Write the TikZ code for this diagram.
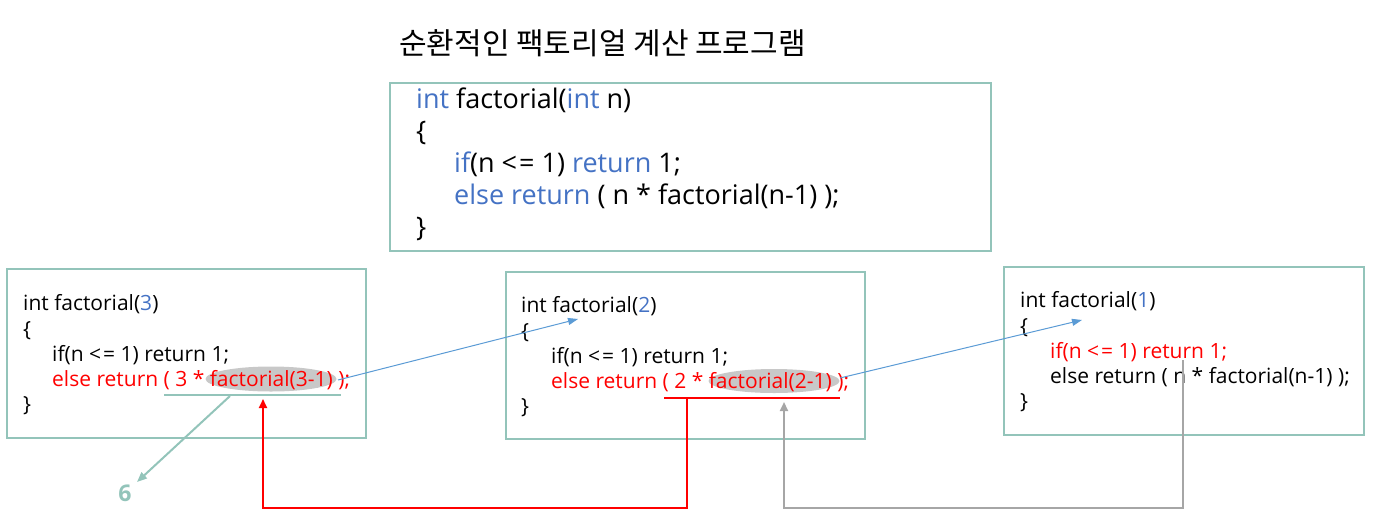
\documentclass[tikz,border=0pt]{standalone}
\usepackage{fontspec}
\setmainfont{Open Sans}
\newfontfamily\kr{Noto Sans CJK KR}
\usetikzlibrary{arrows.meta,shapes.geometric}
\definecolor{boxc}{HTML}{93C4BA}
\definecolor{kw}{HTML}{4472C4}
\definecolor{rd}{HTML}{FF0000}
\definecolor{gr}{HTML}{A6A6A6}
\definecolor{ab}{HTML}{5B9BD5}
\definecolor{hlc}{HTML}{C8C8C8}
\newcommand{\lesseq}{<\kern2pt=}
\begin{document}
\begin{tikzpicture}[x=1pt,y=-1pt,
 box/.style={draw=boxc, line width=2pt, anchor=north west, inner sep=0pt},
 small/.style={anchor=base west, inner sep=0pt, font=\fontsize{21}{25}\selectfont},
 big/.style={anchor=base west, inner sep=0pt, font=\fontsize{27}{31}\selectfont},
 hl/.style={ellipse, fill=hlc, inner sep=0pt},
 callarrow/.style={draw=ab, line width=1pt, -{Triangle[length=10pt,width=7pt]}},
 retred/.style={draw=rd, line width=2pt, -{Triangle[length=9pt,width=8pt]}},
 retgray/.style={draw=gr, line width=2pt, -{Triangle[length=9pt,width=8pt]}},
 retteal/.style={draw=boxc, line width=2pt, -{Triangle[length=10pt,width=8pt]}},
]
\useasboundingbox (0,0) rectangle (1391,525);

% title
\node[anchor=base west, inner sep=0pt, font=\kr\fontsize{30}{34}\selectfont] (title) at (399,54) {순환적인 팩토리얼 계산 프로그램};

% main box
\node[box, minimum width=601pt, minimum height=168pt] (main) at (389,82) {};
\node[big] (m1) at (416,108) {\textcolor{kw}{int} factorial(\textcolor{kw}{int} n)};
\node[big] (m2) at (416,140) {\{};
\node[big] (m3) at (454,172) {\textcolor{kw}{if}(n \lesseq{} 1) \textcolor{kw}{return} 1;};
\node[big] (m4) at (454,204) {\textcolor{kw}{else return} ( n * factorial(n-1) );};
\node[big] (m5) at (416,236) {\}};

% box 1
\node[box, minimum width=359pt, minimum height=169pt] (b1) at (6,268) {};
\node[hl, minimum width=131pt, minimum height=25pt] (e1) at (271,379) {};
\node[small] (a1) at (23,310) {int factorial(\textcolor{kw}{3})};
\node[small] (a2) at (23,336) {\{};
\node[small] (a3) at (52,361) {if(n \lesseq{} 1) return 1;};
\node[small, text=rd] (a4) at (52,386) {else return ( 3 * factorial(3-1) );};
\node[small] (a5) at (23,411) {\}};

% box 2
\node[box, minimum width=359pt, minimum height=167pt] (b2) at (505,271) {};
\node[hl, minimum width=131pt, minimum height=24pt] (e2) at (774,381) {};
\node[small] (c1) at (521,312) {int factorial(\textcolor{kw}{2})};
\node[small] (c2) at (521,338) {\{};
\node[small] (c3) at (551,363) {if(n \lesseq{} 1) return 1;};
\node[small, text=rd] (c4) at (551,388) {else return ( 2 * factorial(2-1) );};
\node[small] (c5) at (521,413) {\}};

% box 3
\node[box, minimum width=360pt, minimum height=168pt] (b3) at (1003,266) {};
\node[small] (d1) at (1020,307) {int factorial(\textcolor{kw}{1})};
\node[small] (d2) at (1020,333) {\{};
\node[small, text=rd] (d3) at (1050,358) {if(n \lesseq{} 1) return 1;};
\node[small] (d4) at (1050,383) {else return ( n * factorial(n-1) );};
\node[small] (d5) at (1020,408) {\}};

% result
\node[inner sep=0pt, text=boxc, font=\fontsize{23}{27}\selectfont\bfseries] (six) at (125,493) {6};

% underlines
\coordinate (u1l) at (164,395); \coordinate (u1r) at (341,395);
\coordinate (u2l) at (664,398); \coordinate (u2r) at (840,398);
\draw[boxc, line width=2pt] (u1l) -- (u1r);
\draw[rd, line width=2pt] (u2l) -- (u2r);

% call arrows
\coordinate (s1) at (338,380); \coordinate (t1) at (578,319);
\coordinate (s2) at (840,378); \coordinate (t2) at (1082,320);
\draw[callarrow] (s1) -- (t1);
\draw[callarrow] (s2) -- (t2);

% return arrows
\coordinate (r1) at (687,398); \coordinate (r1t) at (263,399);
\draw[retred] (r1) -- (687,508) -- (263,508) -- (r1t);
\coordinate (g1) at (1183,360); \coordinate (g1t) at (784,402);
\draw[retgray] (g1) -- (1183,508) -- (784,508) -- (g1t);
\coordinate (v1) at (230,396); \coordinate (v1t) at (137,482);
\draw[retteal] (v1) -- (v1t);
\end{tikzpicture}
\end{document}
